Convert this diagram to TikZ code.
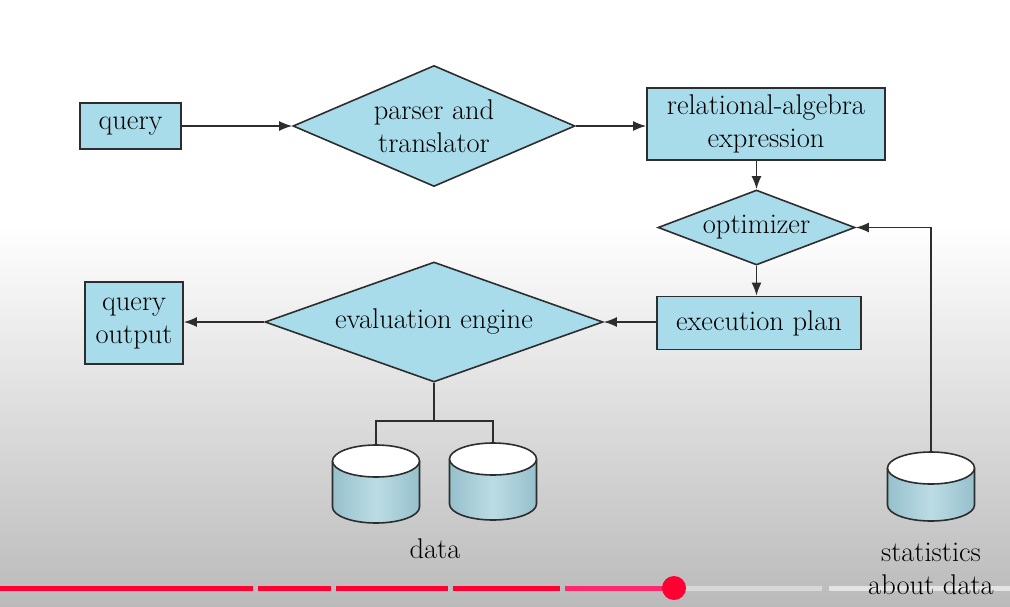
\documentclass[tikz,border=0pt]{standalone}
\usetikzlibrary{shapes.geometric,arrows.meta}
\definecolor{boxfill}{RGB}{168,220,235}
\definecolor{edge}{RGB}{45,45,45}
\definecolor{cylside}{RGB}{150,192,204}
\definecolor{cylmid}{RGB}{188,220,228}
\definecolor{barred}{RGB}{255,0,51}
\definecolor{barpink}{RGB}{255,40,110}
\definecolor{bargray}{RGB}{215,215,215}
\definecolor{bargray2}{RGB}{228,228,228}
\tikzset{
  lbl/.style={font=\fontsize{28.5}{33}\selectfont, text=black, align=center},
  rbox/.style={lbl, draw=edge, line width=1.6pt, fill=boxfill, inner sep=0pt},
  dmd/.style={lbl, diamond, draw=edge, line width=1.6pt, fill=boxfill, inner sep=0pt},
  conn/.style={draw=edge, line width=1.6pt},
  arr/.style={conn, -{Latex[length=13pt,width=10pt]}},
  cylbody/.style={left color=cylside, right color=cylside, middle color=cylmid},
  bar/.style={line width=5pt}
}
\newcommand{\dbcyl}[4]{%
  \shade[cylbody] (#1-43.5,#2) -- (#1-43.5,#3) arc[start angle=180,end angle=0,x radius=43.5,y radius=16] -- (#1+43.5,#2) -- cycle;
  \draw[edge, line width=1.6pt] (#1-43.5,#2) -- (#1-43.5,#3) arc[start angle=180,end angle=0,x radius=43.5,y radius=16] -- (#1+43.5,#2);
  \draw[edge, line width=1.6pt, fill=white] (#1,#2) ellipse [x radius=43.5, y radius=16];
  \coordinate (#4) at (#1,#2-16);
}
\begin{document}
\begin{tikzpicture}[x=1pt,y=-1pt]
\useasboundingbox (0,0) rectangle (1010,606);
\fill[white] (0,0) rectangle (1010,606);
\shade[top color=white, bottom color=black!27] (0,225) rectangle (1010,606);

% progress bar
\draw[bar, barred] (0,588) -- (253,588);
\draw[bar, barred] (258,588) -- (331,588);
\draw[bar, barred] (336,588) -- (448,588);
\draw[bar, barred] (453,588) -- (560,588);
\draw[bar, barpink] (565,588) -- (674,588);
\draw[bar, bargray] (674,588) -- (822,588);
\draw[bar, bargray2] (829,588) -- (1010,588);
\fill[barred] (674,588) circle (12);

% nodes
\node[rbox, minimum width=101pt, minimum height=46pt] (query) at (130.5,126) {query};
\node[dmd, aspect=2.33, minimum width=282pt, minimum height=121pt] (parser) at (434,126) {parser and\\translator};
\node[rbox, minimum width=238pt, minimum height=72pt] (rel) at (766,124) {relational-algebra\\expression};
\node[dmd, aspect=2.63, minimum width=197pt, minimum height=75pt] (opt) at (756.5,227.5) {optimizer};
\node[rbox, minimum width=204pt, minimum height=53pt] (exec) at (759,323) {execution plan};
\node[dmd, aspect=2.82, minimum width=338pt, minimum height=120pt] (eval) at (434,322) {evaluation engine};
\node[rbox, minimum width=98pt, minimum height=82pt] (qout) at (134,323) {query\\output};

% cylinders
\dbcyl{376}{461}{507}{c1}
\dbcyl{493}{459}{504}{c2}
\dbcyl{931}{468}{505}{c3}

\node[lbl] (data) at (435,549) {data};
\node[lbl] (stats) at (931,569) {statistics\\about data};

% connectors
\draw[arr] (query.east) -- (parser.west);
\draw[arr] (parser.east) -- (rel.west |- parser.east);
\draw[arr] (rel.south -| opt.north) -- (opt.north);
\draw[arr] (opt.south) -- (opt.south |- exec.north);
\draw[arr] (exec.west |- eval.east) -- (eval.east);
\draw[arr] (eval.west) -- (eval.west -| qout.east);
\coordinate (j) at (434,421);
\draw[conn] (eval.south) -- (j);
\draw[conn] (c1) |- (j) -| (c2);
\draw[arr] (c3) |- (opt.east);
\end{tikzpicture}
\end{document}
